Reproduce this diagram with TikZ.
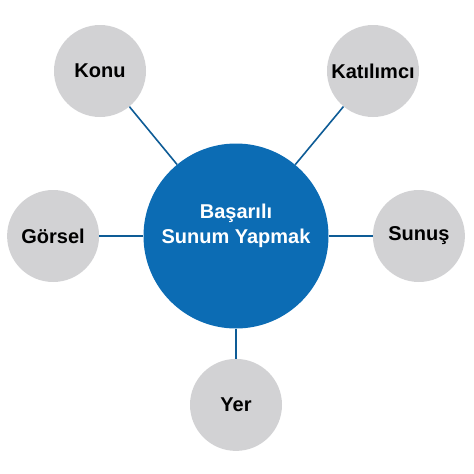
\documentclass[tikz,border=0pt]{standalone}
\usepackage{fontspec}
\setmainfont{Liberation Sans}
\usetikzlibrary{positioning}
\definecolor{hubblue}{RGB}{12,108,180}
\definecolor{linkblue}{RGB}{14,92,150}
\definecolor{satgray}{RGB}{210,210,212}
\tikzset{
    base/.style = {circle, inner sep=0pt, font=\bfseries\fontsize{20}{25}\selectfont},
    hub/.style  = {base, fill=hubblue, minimum size=185pt},
    sat/.style  = {base, fill=satgray, minimum size=92pt, text=black},
    link/.style = {draw=linkblue, line width=1.6pt}
}
\begin{document}
\begin{tikzpicture}[x=1pt, y=-1pt]
        \useasboundingbox (0,0) rectangle (474,474);

        % Main topic
        \node (hub) [hub] at (236,236) {};
        \node (hubtext) [font=\bfseries\fontsize{20}{25}\selectfont, text=white, align=center] at ([yshift=10pt]hub.center) {Başarılı\\Sunum Yapmak};

        % Satellites
        \node (konu) [sat] at (100,71) {Konu};
        \node (katilimci) [sat] at (373,71) {Katılımcı};
        \node (gorsel) [sat, left=44pt of hub] {Görsel};
        \node (sunus) [sat, right=44pt of hub] {Sunuş};
        \node (yer) [sat, below=30pt of hub] {Yer};

        % Links
        \draw [link] (hub) -- (konu);
        \draw [link] (hub) -- (katilimci);
        \draw [link] (hub) -- (gorsel);
        \draw [link] (hub) -- (sunus);
        \draw [link] (hub) -- (yer);
\end{tikzpicture}
\end{document}
